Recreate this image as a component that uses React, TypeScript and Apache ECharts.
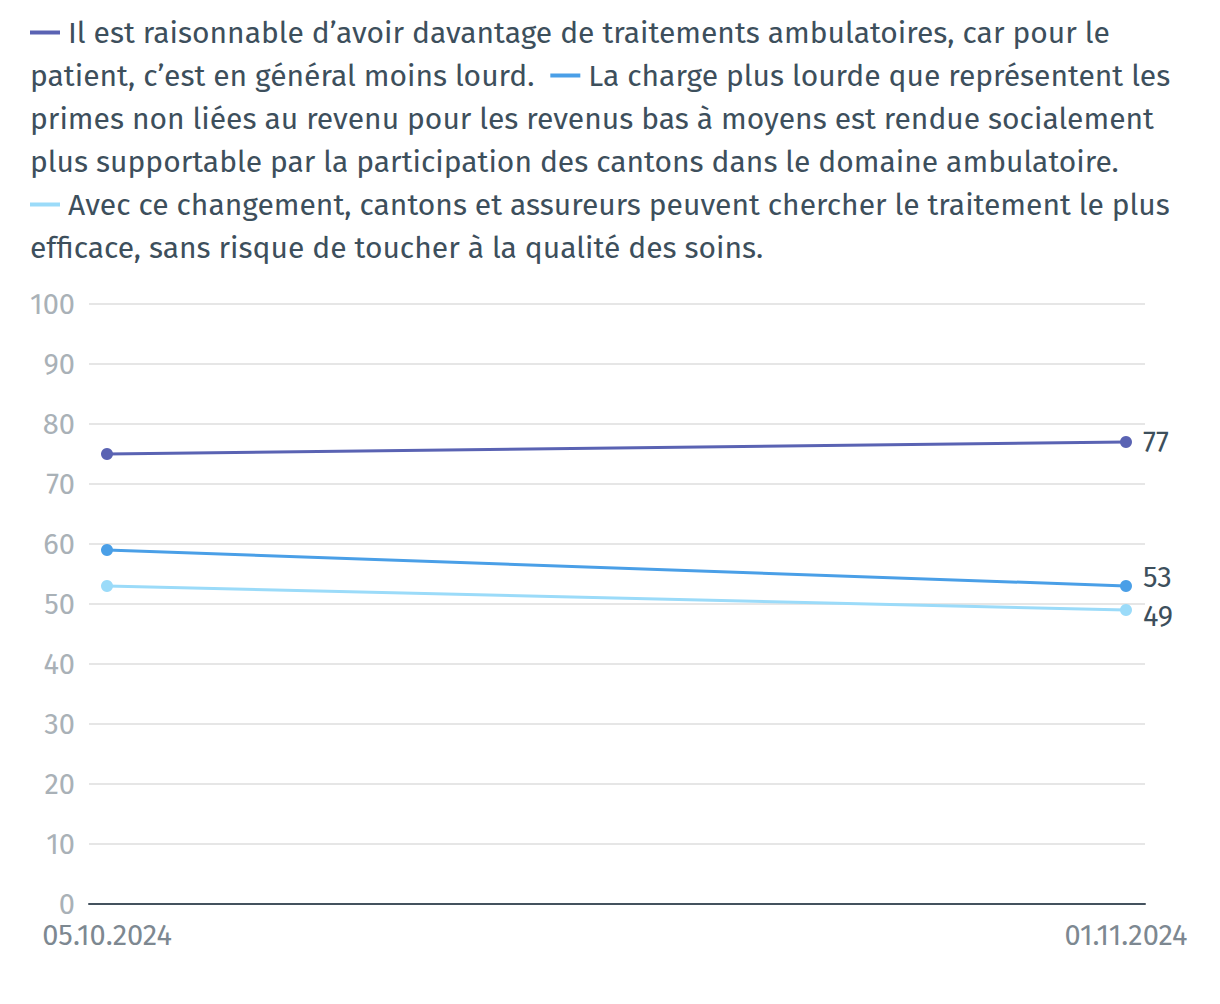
import React, { useEffect, useRef } from "react";
import * as echarts from "echarts";

const categories = ["05.10.2024", "01.11.2024"];
const seriesNames = [
  "Il est raisonnable d’avoir davantage de traitements ambulatoires, car pour le patient, c’est en général moins lourd.",
  "La charge plus lourde que représentent les primes non liées au revenu pour les revenus bas à moyens est rendue socialement plus supportable par la participation des cantons dans le domaine ambulatoire.",
  "Avec ce changement, cantons et assureurs peuvent chercher le traitement le plus efficace, sans risque de toucher à la qualité des soins.",
];
const series1 = [75, 77];
const series2 = [59, 53];
const series3 = [53, 49];
const colors = ["#5a63b3", "#4a9fe7", "#9bdbf9"];
const labelOffsets = [[0, 0], [0, -9], [0, 6]];

const legendLines = [
  "{m0| } Il est raisonnable d’avoir davantage de traitements ambulatoires, car pour le",
  "patient, c’est en général moins lourd.  {m1| } La charge plus lourde que représentent les",
  "primes non liées au revenu pour les revenus bas à moyens est rendue socialement",
  "plus supportable par la participation des cantons dans le domaine ambulatoire.",
  "{m2| } Avec ce changement, cantons et assureurs peuvent chercher le traitement le plus",
  "efficace, sans risque de toucher à la qualité des soins.",
];

const FONT = "'Fira Sans', 'Noto Sans', sans-serif";

export default function App() {
  const ref = useRef<HTMLDivElement>(null);
  useEffect(() => {
    if (!ref.current) return;
    const chart = echarts.init(ref.current, undefined, { renderer: "svg" });
    const all = [series1, series2, series3];
    const rich: any = {};
    colors.forEach((c, i) => {
      rich["m" + i] = { width: 30, height: 4, backgroundColor: c, fontSize: 30 };
    });
    chart.setOption({
      animation: false,
      textStyle: { fontFamily: FONT },
      grid: [
        { left: 81, right: 67, top: 296, height: 600 },
        { left: 99, width: 1019, top: 296, height: 600 },
      ],
      xAxis: [
        {
          type: "value",
          gridIndex: 0,
          min: 0,
          max: 1,
          axisLine: { show: true, lineStyle: { color: "#44525e", width: 2 } },
          axisTick: { show: false },
          axisLabel: { show: false },
          splitLine: { show: false },
        },
        {
          type: "category",
          gridIndex: 1,
          boundaryGap: false,
          data: categories,
          axisLine: { show: false },
          axisTick: { show: false },
          axisLabel: { fontSize: 29, lineHeight: 26, color: "#7d8891", margin: 18, fontFamily: FONT },
        },
      ],
      yAxis: [
        {
          type: "value",
          gridIndex: 0,
          min: 0,
          max: 100,
          interval: 10,
          axisLine: { show: false },
          axisTick: { show: false },
          axisLabel: { fontSize: 29, lineHeight: 24, color: "#a9b1b7", margin: 14, fontFamily: FONT },
          splitLine: { lineStyle: { color: "#e6e6e6", width: 2 } },
        },
        { type: "value", gridIndex: 1, min: 0, max: 100, show: false },
      ],
      graphic: [
        {
          type: "text",
          left: 22,
          top: 3,
          style: {
            text: legendLines.join("\n"),
            fontSize: 30,
            lineHeight: 43,
            fill: "#3d4f5c",
            fontFamily: FONT,
            rich,
          },
        },
      ],
      series: all.map((vals, i) => ({
        type: "line",
        name: seriesNames[i],
        xAxisIndex: 1,
        yAxisIndex: 1,
        symbol: "circle",
        symbolSize: 12,
        lineStyle: { width: 3, color: colors[i] },
        itemStyle: { color: colors[i] },
        data: vals.map((v, j) =>
          j === vals.length - 1
            ? {
                value: v,
                label: {
                  show: true,
                  position: "right",
                  distance: 11,
                  offset: labelOffsets[i],
                  fontSize: 29,
                  color: "#3d4f5c",
                  fontFamily: FONT,
                },
              }
            : v
        ),
      })),
    });
    return () => chart.dispose();
  }, []);
  return <div ref={ref} style={{ width: 1204, height: 988 }} />;
}
